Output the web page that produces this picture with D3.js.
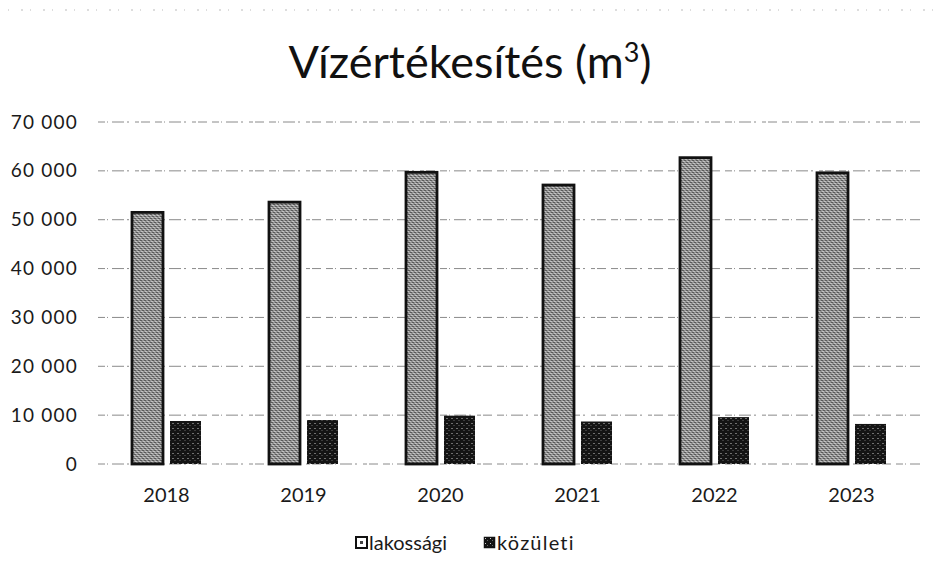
<!DOCTYPE html>
<html>
<head>
<meta charset="utf-8">
<script src="https://cdn.jsdelivr.net/npm/d3@7"></script>
<style>
  body { margin: 0; background: #fff; }
  svg { font-family: Lato, "Open Sans", sans-serif; }
  .grid line { stroke: #8a8a8a; stroke-width: 1; stroke-dasharray: 7 2 1 4 12 3 2 6 4 2 9 5; }
  .tick text { fill: #1a1a1a; }
</style>
</head>
<body>
<svg width="941" height="585"></svg>
<script>
const years      = ["2018", "2019", "2020", "2021", "2022", "2023"];
const lakossagi  = [51500, 53600, 59700, 57100, 62700, 59600];
const kozuleti   = [8800, 9000, 9900, 8700, 9600, 8200];
const yTicks     = [0, 10000, 20000, 30000, 40000, 50000, 60000, 70000];
const seriesNames = ["lakossági", "közületi"];

window.onload = () => {
  const svg = d3.select("svg");
  const margin = { top: 122, bottom: 121, left: 98, right: 21 };
  const w = +svg.attr("width") - margin.left - margin.right;
  const h = +svg.attr("height") - margin.top - margin.bottom;

  const defs = svg.append("defs");
  drawPatterns(defs);

  const g = svg.append("g")
    .attr("transform", `translate(${margin.left}, ${margin.top})`);

  const x = d3.scaleBand()
    .domain(years)
    .range([0, w]);

  const y = d3.scaleLinear()
    .domain([0, 70000])
    .range([h, 0]);

  // scan artefact line along the top
  svg.append("line")
    .attr("x1", 8).attr("x2", 935)
    .attr("y1", 10).attr("y2", 10)
    .attr("stroke", "#bbb")
    .attr("stroke-dasharray", "1 12 2 7");

  const title = svg.append("text")
    .attr("x", 470)
    .attr("y", 78)
    .attr("text-anchor", "middle")
    .attr("font-size", 45)
    .attr("fill", "#111");
  title.append("tspan").text("Vízértékesítés (m");
  title.append("tspan").attr("font-size", 27).attr("dy", -16).text("3");
  title.append("tspan").attr("dy", 16).text(")");

  drawGrid(g, y, w);
  drawYAxis(g, y);
  drawXAxis(g, x, h);
  drawBars(g, x, y, h);
  drawLegend(svg);
};

const fmt = (d) => d3.format(",")(d).replace(/,/g, " ");

const drawPatterns = (defs) => {
  const light = defs.append("pattern")
    .attr("id", "light")
    .attr("width", 4).attr("height", 4)
    .attr("patternUnits", "userSpaceOnUse");
  light.append("rect").attr("width", 4).attr("height", 4).attr("fill", "#929292");
  light.append("rect").attr("x", 0).attr("y", 0).attr("width", 1).attr("height", 1).attr("fill", "#222");
  light.append("rect").attr("x", 2).attr("y", 2).attr("width", 1).attr("height", 1).attr("fill", "#222");
  light.append("rect").attr("x", 1).attr("y", 3).attr("width", 1).attr("height", 1).attr("fill", "#f2f2f2");
  light.append("rect").attr("x", 3).attr("y", 1).attr("width", 1).attr("height", 1).attr("fill", "#f2f2f2");

  const dark = defs.append("pattern")
    .attr("id", "dark")
    .attr("width", 5).attr("height", 5)
    .attr("patternUnits", "userSpaceOnUse");
  dark.append("rect").attr("width", 5).attr("height", 5).attr("fill", "#141414");
  dark.append("rect").attr("x", 1).attr("y", 1).attr("width", 1).attr("height", 1).attr("fill", "#ccc");
  dark.append("rect").attr("x", 3).attr("y", 3).attr("width", 1).attr("height", 1).attr("fill", "#666");
};

const drawGrid = (g, y, w) => {
  g.append("g")
      .attr("class", "grid")
    .selectAll("line")
    .data(yTicks)
    .enter().append("line")
      .attr("x1", 0)
      .attr("x2", w)
      .attr("y1", d => y(d))
      .attr("y2", d => y(d));
};

const drawYAxis = (g, y) => {
  const yAxis = g.append("g")
    .call(d3.axisLeft(y).tickValues(yTicks).tickFormat(fmt).tickSize(0).tickPadding(20));
  yAxis.select(".domain").remove();
  yAxis.selectAll("text")
    .attr("font-size", 19)
    .attr("letter-spacing", 1.2)
    .attr("font-family", "Lato, sans-serif");
};

const drawXAxis = (g, x, h) => {
  const xAxis = g.append("g")
    .attr("transform", `translate(0, ${h})`)
    .call(d3.axisBottom(x).tickSize(0).tickPadding(24));
  xAxis.select(".domain").remove();
  xAxis.selectAll("text")
    .attr("font-size", 20)
    .attr("font-family", "Lato, sans-serif");
};

const drawBars = (g, x, y, h) => {
  const barW = 31;
  const gap = 7;

  const group = g.selectAll(".year")
    .data(years)
    .enter().append("g")
      .attr("class", "year")
      .attr("transform", d => `translate(${x(d) + x.bandwidth() / 2}, 0)`);

  group.append("rect")
    .attr("x", -gap / 2 - barW)
    .attr("y", (d, i) => y(lakossagi[i]))
    .attr("width", barW)
    .attr("height", (d, i) => h - y(lakossagi[i]))
    .attr("fill", "url(#light)")
    .attr("stroke", "#111")
    .attr("stroke-width", 2.8);

  group.append("rect")
    .attr("x", gap / 2)
    .attr("y", (d, i) => y(kozuleti[i]))
    .attr("width", barW)
    .attr("height", (d, i) => h - y(kozuleti[i]))
    .attr("fill", "url(#dark)");
};

const drawLegend = (svg) => {
  const legend = svg.append("g")
    .attr("transform", "translate(356, 537)");

  const item = legend.selectAll("g")
    .data(seriesNames)
    .enter().append("g")
      .attr("transform", (d, i) => `translate(${i * 128}, 0)`);

  item.append("rect")
    .attr("x", 0).attr("y", 0)
    .attr("width", 11).attr("height", 11)
    .attr("fill", (d, i) => i === 0 ? "#fff" : "url(#dark)")
    .attr("stroke", "#111")
    .attr("stroke-width", (d, i) => i === 0 ? 2 : 0.5);

  item.filter((d, i) => i === 0).append("rect")
    .attr("x", 4).attr("y", 4)
    .attr("width", 3).attr("height", 3)
    .attr("fill", "#444");

  item.append("text")
    .attr("x", 13)
    .attr("y", 13)
    .attr("font-size", 20)
    .attr("fill", "#1a1a1a")
    .attr("letter-spacing", (d, i) => i === 1 ? 1.2 : 0)
    .text(d => d);
};
</script>
</body>
</html>
